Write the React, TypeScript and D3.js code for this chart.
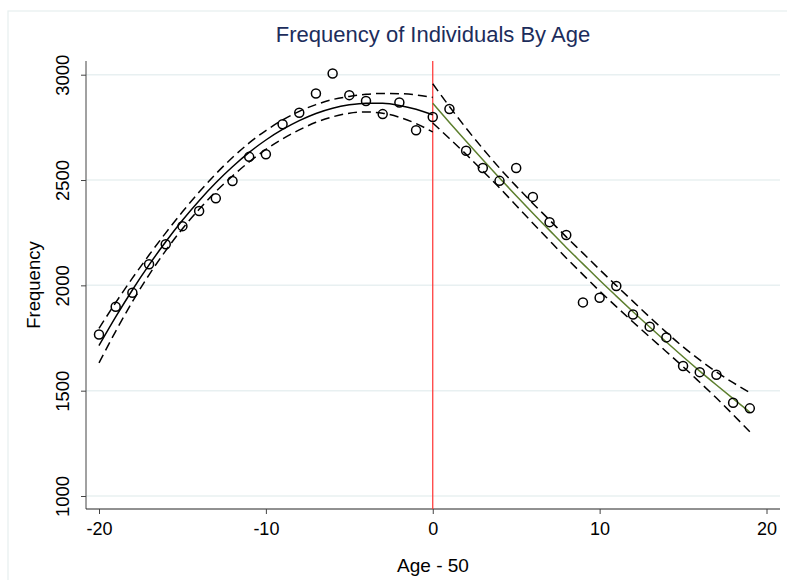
import React, { useEffect, useRef } from 'react';
import * as d3 from 'd3';

// observed frequencies, age - 50
const ages = d3.range(-20, 20);
const freq = [
    1767, 1898, 1965, 2100, 2195, 2281, 2353, 2413, 2495, 2610,
    2622, 2765, 2819, 2911, 3006, 2903, 2875, 2813, 2868, 2736,
    2799, 2837, 2639, 2557, 2496, 2557, 2420, 2300, 2239, 1919,
    1941, 1997, 1862, 1804, 1753, 1617, 1588, 1576, 1443, 1416
];

// left fit (-20..0) with 95% band
const leftX = d3.range(-20, 1);
const leftFit = [1714, 1850, 1978, 2097, 2207, 2309, 2402, 2487, 2563, 2631, 2690, 2740, 2782, 2816, 2841, 2857, 2865, 2864, 2854, 2836, 2810];
const leftUpper = [1796, 1918, 2034, 2144, 2249, 2349, 2443, 2529, 2607, 2676, 2735, 2785, 2826, 2858, 2882, 2897, 2907, 2911, 2910, 2904, 2892];
const leftLower = [1632, 1782, 1922, 2050, 2165, 2269, 2361, 2445, 2519, 2586, 2645, 2695, 2738, 2774, 2800, 2817, 2823, 2817, 2798, 2768, 2728];

// right fit (0..19) with 95% band
const rightX = d3.range(0, 20);
const rightFit = [2864, 2773, 2684, 2596, 2510, 2425, 2342, 2261, 2180, 2102, 2024, 1949, 1875, 1802, 1731, 1661, 1593, 1527, 1462, 1398];
const rightUpper = [2957, 2849, 2746, 2649, 2557, 2471, 2389, 2310, 2230, 2153, 2075, 1999, 1924, 1849, 1777, 1708, 1646, 1589, 1538, 1491];
const rightLower = [2771, 2697, 2622, 2543, 2463, 2379, 2295, 2212, 2130, 2051, 1973, 1899, 1826, 1755, 1685, 1614, 1540, 1465, 1386, 1305];

const xTicks = [-20, -10, 0, 10, 20];
const yTicks = [1000, 1500, 2000, 2500, 3000];

const W = 787, H = 580;
const FONT = "'Liberation Sans', Arial, sans-serif";

function App() {
    const ref = useRef<SVGSVGElement>(null);

    useEffect(() => {
        const svg = d3.select(ref.current);
        svg.selectAll("*").remove();

        const left = 86, right = 780, top = 61, bottom = 509;

        const x = d3.scaleLinear().domain([-20, 20]).range([99, 766.5]);
        const y = d3.scaleLinear().domain([1000, 3000]).range([496, 74.7]);

        svg.append("rect")
            .attr("width", W).attr("height", H).attr("fill", "white");

        // outer frame
        svg.append("rect")
            .attr("x", 8).attr("y", 11)
            .attr("width", W).attr("height", H)
            .attr("fill", "none")
            .attr("stroke", "#e6efef").attr("stroke-width", 1.2);

        // gridlines
        svg.append("g")
            .selectAll("line")
            .data(yTicks)
            .join("line")
            .attr("x1", left).attr("x2", right)
            .attr("y1", d => y(d)).attr("y2", d => y(d))
            .attr("stroke", "#e8f0f1").attr("stroke-width", 1.5);

        // axes
        const yAxis = svg.append("g")
            .attr("transform", `translate(${left},0)`)
            .call(d3.axisLeft(y).tickValues(yTicks).tickSize(5));
        yAxis.select(".domain").attr("d", `M0,${top}V${bottom}`).attr("stroke", "#444");
        yAxis.selectAll(".tick line").attr("stroke", "#444");
        yAxis.selectAll(".tick text")
            .attr("x", null).attr("dy", null)
            .attr("transform", "translate(-17,0) rotate(-90)")
            .attr("text-anchor", "middle")
            .attr("font-family", FONT).attr("font-size", 18.5).attr("fill", "#000");

        const xAxis = svg.append("g")
            .attr("transform", `translate(0,${bottom})`)
            .call(d3.axisBottom(x).tickValues(xTicks).tickSize(5));
        xAxis.select(".domain").attr("d", `M${left},0H${right}`).attr("stroke", "#222");
        xAxis.selectAll(".tick line").attr("stroke", "#444");
        xAxis.selectAll(".tick text")
            .attr("y", 26).attr("dy", null)
            .attr("font-family", FONT).attr("font-size", 18).attr("fill", "#000");
        svg.selectAll(".tick text").text(d => String(d));

        // cutoff
        svg.append("line")
            .attr("x1", x(0)).attr("x2", x(0))
            .attr("y1", top).attr("y2", bottom)
            .attr("stroke", "#ff3030").attr("stroke-width", 1.2);

        const band = (xs: number[], vals: number[]) =>
            d3.line<number>().x((d, i) => x(xs[i])).y(d => y(d)).curve(d3.curveMonotoneX)(vals);

        const dash = "9,5";
        [[leftX, leftUpper], [leftX, leftLower], [rightX, rightUpper], [rightX, rightLower]]
            .forEach(([xs, vals]) => {
                svg.append("path")
                    .attr("d", band(xs, vals))
                    .attr("fill", "none")
                    .attr("stroke", "#000").attr("stroke-width", 1.5)
                    .attr("stroke-dasharray", dash);
            });

        svg.append("path")
            .attr("d", band(leftX, leftFit))
            .attr("fill", "none").attr("stroke", "#000").attr("stroke-width", 1.5);

        svg.append("path")
            .attr("d", band(rightX, rightFit))
            .attr("fill", "none").attr("stroke", "#5d7f2e").attr("stroke-width", 1.5);

        // points
        svg.append("g")
            .selectAll("circle")
            .data(freq)
            .join("circle")
            .attr("cx", (d, i) => x(ages[i]))
            .attr("cy", d => y(d))
            .attr("r", 4.5)
            .attr("fill", "none")
            .attr("stroke", "#000").attr("stroke-width", 1.5);

        // titles
        svg.append("text")
            .attr("x", (left + right) / 2).attr("y", 42)
            .attr("text-anchor", "middle")
            .attr("font-family", FONT).attr("font-size", 22)
            .attr("fill", "#1c2d5c")
            .text("Frequency of Individuals By Age");

        svg.append("text")
            .attr("x", (left + right) / 2).attr("y", 572)
            .attr("text-anchor", "middle")
            .attr("font-family", FONT).attr("font-size", 19)
            .attr("fill", "#000")
            .text("Age - 50");

        svg.append("text")
            .attr("transform", `translate(40,${(top + bottom) / 2}) rotate(-90)`)
            .attr("text-anchor", "middle")
            .attr("font-family", FONT).attr("font-size", 18.5)
            .attr("fill", "#000")
            .text("Frequency");
    }, []);

    return (
        <svg
            ref={ref}
            width={W}
            height={H}
            style={{ position: 'absolute', left: 0, top: 0, display: 'block' }}
        />
    );
}

export default App;
